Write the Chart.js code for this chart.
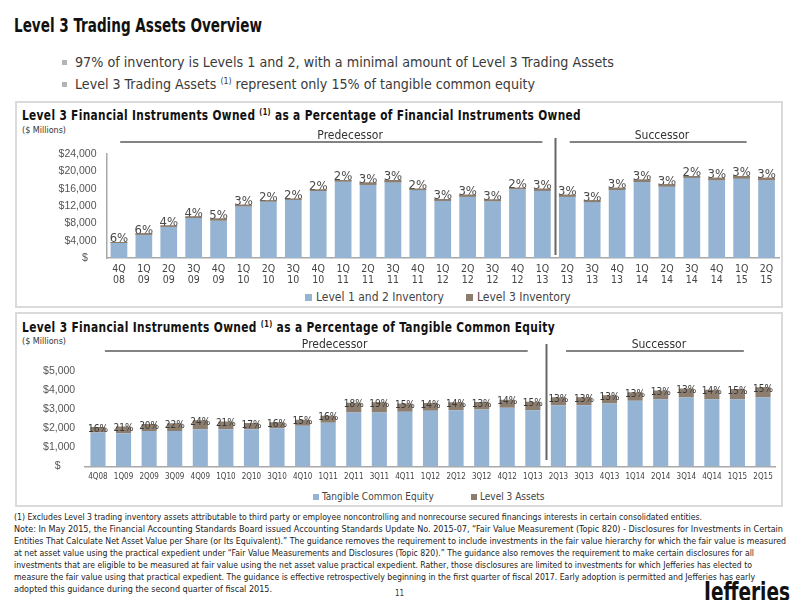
<!DOCTYPE html>
<html>
<head>
<meta charset="utf-8">
<script src="https://cdn.jsdelivr.net/npm/chart.js@4.4.1/dist/chart.umd.min.js"></script>
<style>
    body { margin: 0; background: #fff; }
    #page { position: relative; width: 800px; height: 600px; overflow: hidden; color: #222;
            font-family: 'Liberation Sans Narrow', 'DejaVu Sans Condensed', 'Liberation Sans', sans-serif; }
    .t { position: absolute; white-space: nowrap; transform-origin: left top; }
    .panel { position: absolute; border: 2px solid #dadada; box-sizing: border-box; }
    .chartbox { position: absolute; }
    .sq { display: inline-block; width: 7px; height: 7px; margin-right: 4px; vertical-align: 0px; }
    sup { font-size: 0.62em; line-height: 0; vertical-align: 0.55em; }
    .bul { position: absolute; width: 5px; height: 5px; background: #b4b4b4; }
</style>
</head>
<body>
<div id="page">
    <div class="t" data-w="248" style="left:14px;top:15px;font-size:19px;font-weight:bold;line-height:20px;color:#111;">Level 3 Trading Assets Overview</div>

    <div class="bul" style="left:62px;top:60px;"></div>
    <div class="t" data-w="539" style="left:75px;top:54px;font-size:14.5px;line-height:16px;color:#3a3a3a;">97% of inventory is Levels 1 and 2, with a minimal amount of Level 3 Trading Assets</div>
    <div class="bul" style="left:62px;top:82px;"></div>
    <div class="t" data-w="460" style="left:75px;top:76px;font-size:14.5px;line-height:16px;color:#3a3a3a;">Level 3 Trading Assets <sup>(1)</sup> represent only 15% of tangible common equity</div>

    <!-- panel 1 -->
    <div class="panel" style="left:15px;top:101px;width:768px;height:207px;"></div>
    <div class="t" data-w="559" style="left:22px;top:108px;font-size:13.5px;font-weight:bold;line-height:14px;color:#111;letter-spacing:0.4px;">Level 3 Financial Instruments Owned <sup>(1)</sup> as a Percentage of Financial Instruments Owned</div>
    <div class="t" data-w="44" style="left:22px;top:125px;font-size:9px;line-height:10px;color:#333;">($ Millions)</div>
    <div class="chartbox" style="left:15px;top:125px;"><canvas id="inventoryChart" width="768" height="165"></canvas></div>
    <div class="t" style="left:305px;top:291px;font-size:12px;line-height:12px;color:#444;"><span class="sq" style="background:#95B3D3"></span>Level 1 and 2 Inventory</div>
    <div class="t" style="left:466px;top:291px;font-size:12px;line-height:12px;color:#444;"><span class="sq" style="background:#8C7D6E"></span>Level 3 Inventory</div>

    <!-- panel 2 -->
    <div class="panel" style="left:15px;top:312px;width:768px;height:195px;"></div>
    <div class="t" data-w="533" style="left:22px;top:320px;font-size:13.5px;font-weight:bold;line-height:14px;color:#111;letter-spacing:0.4px;">Level 3 Financial Instruments Owned <sup>(1)</sup> as a Percentage of Tangible Common Equity</div>
    <div class="t" data-w="44" style="left:22px;top:336px;font-size:9px;line-height:10px;color:#333;">($ Millions)</div>
    <div class="chartbox" style="left:15px;top:336px;"><canvas id="equityChart" width="768" height="149"></canvas></div>
    <div class="t" style="left:313px;top:492px;font-size:10px;line-height:10px;color:#444;"><span class="sq" style="background:#95B3D3;width:6px;height:6px;margin-right:3px"></span>Tangible Common Equity</div>
    <div class="t" style="left:471px;top:492px;font-size:10px;line-height:10px;color:#444;"><span class="sq" style="background:#8C7D6E;width:6px;height:6px;margin-right:3px"></span>Level 3 Assets</div>

    <!-- notas -->
    <div class="t" data-w="688" style="left:14px;top:512px;font-size:9px;line-height:10px;">(1) Excludes Level 3 trading inventory assets attributable to third party or employee noncontrolling and nonrecourse secured financings interests in certain consolidated entities.</div>
    <div class="t" data-w="769" style="left:14px;top:524px;font-size:9px;line-height:10px;">Note: In May 2015, the Financial Accounting Standards Board issued Accounting Standards Update No. 2015-07, “Fair Value Measurement (Topic 820) - Disclosures for Investments in Certain</div>
    <div class="t" data-w="772" style="left:14px;top:536px;font-size:9px;line-height:10px;">Entities That Calculate Net Asset Value per Share (or Its Equivalent).” The guidance removes the requirement to include investments in the fair value hierarchy for which the fair value is measured</div>
    <div class="t" data-w="740" style="left:14px;top:548px;font-size:9px;line-height:10px;">at net asset value using the practical expedient under “Fair Value Measurements and Disclosures (Topic 820).” The guidance also removes the requirement to make certain disclosures for all</div>
    <div class="t" data-w="738" style="left:14px;top:560px;font-size:9px;line-height:10px;">investments that are eligible to be measured at fair value using the net asset value practical expedient. Rather, those disclosures are limited to investments for which Jefferies has elected to</div>
    <div class="t" data-w="741" style="left:14px;top:572px;font-size:9px;line-height:10px;">measure the fair value using that practical expedient. The guidance is effective retrospectively beginning in the first quarter of fiscal 2017. Early adoption is permitted and Jefferies has early</div>
    <div class="t" data-w="258" style="left:14px;top:584px;font-size:9px;line-height:10px;">adopted this guidance during the second quarter of fiscal 2015.</div>
    <div class="t" style="left:395px;top:589px;font-size:8px;line-height:9px;color:#333;">11</div>
    <div class="t" data-w="86" style="left:704px;top:580px;font-size:26px;font-weight:bold;line-height:24px;color:#111;">Jefferies</div>
</div>

<script>
// datos ($ millones)
const quarters = ['4Q08','1Q09','2Q09','3Q09','4Q09','1Q10','2Q10','3Q10','4Q10','1Q11','2Q11','3Q11','4Q11',
                  '1Q12','2Q12','3Q12','4Q12','1Q13','2Q13','3Q13','4Q13','1Q14','2Q14','3Q14','4Q14','1Q15','2Q15'];

const inventoryLevel12 = [3480, 5360, 7200, 9220, 8650, 11930, 13030, 13430, 15480, 17640, 16880, 17460, 15680,
                          13190, 14160, 13100, 15880, 15520, 14160, 12900, 15710, 17560, 16490, 18520, 17950, 18330, 17950];
const inventoryLevel3 = [220, 340, 300, 380, 460, 370, 270, 270, 320, 360, 520, 540, 320,
                         410, 440, 410, 320, 480, 440, 400, 490, 540, 510, 380, 560, 570, 560];
const inventoryPct = [6, 6, 4, 4, 5, 3, 2, 2, 2, 2, 3, 3, 2, 3, 3, 3, 2, 3, 3, 3, 3, 3, 3, 2, 3, 3, 3];

const tangibleEquity = [1780, 1730, 1850, 1850, 1950, 1940, 1940, 1990, 2125, 2280, 2820, 2820, 2860,
                        2910, 2940, 2980, 3060, 2940, 3200, 3200, 3290, 3430, 3515, 3600, 3515, 3515, 3600];
const level3Assets = [285, 363, 370, 407, 468, 407, 330, 318, 319, 365, 508, 536, 429,
                      407, 412, 387, 428, 441, 416, 416, 428, 446, 457, 468, 492, 527, 540];
const equityPct = [16, 21, 20, 22, 24, 21, 17, 16, 15, 16, 18, 19, 15, 14, 14, 13, 14, 15, 13, 13, 13, 13, 13, 13, 14, 15, 15];

const blue = '#95B3D3';
const brown = '#8C7D6E';
const textFont = "'Liberation Sans Narrow', 'DejaVu Sans Condensed', 'Liberation Sans', sans-serif";

// ajustar ancho de textos al de la diapositiva
document.querySelectorAll('[data-w]').forEach(el => {
    const w = el.getBoundingClientRect().width;
    el.style.transform = `scaleX(${(+el.dataset.w) / w})`;
});

//etiquetas de porcentaje encima de cada barra
const pctLabels = {
    id: 'pctLabels',
    afterDatasetsDraw(chart, args, opts) {
        const ctx = chart.ctx;
        const topMeta = chart.getDatasetMeta(1);
        ctx.save();
        ctx.font = opts.font;
        ctx.fillStyle = opts.color;
        ctx.textAlign = 'center';
        ctx.textBaseline = 'middle';
        topMeta.data.forEach((bar, i) => {
            ctx.fillText(opts.values[i] + '%', bar.x, bar.y + opts.dy);
        });
        ctx.restore();
        if (opts.redrawTop) {
            topMeta.data.forEach(bar => bar.draw(ctx));
        }
    }
};

// Predecessor / Successor y linea divisoria
const periodMarks = {
    id: 'periodMarks',
    afterDraw(chart, args, opts) {
        const ctx = chart.ctx;
        const xs = chart.scales.x;
        ctx.save();
        ctx.strokeStyle = '#5a5a5a';
        ctx.lineWidth = 1.5;
        ctx.fillStyle = '#333';
        ctx.font = `12px ${textFont}`;
        ctx.textAlign = 'center';
        ctx.textBaseline = 'middle';
        opts.spans.forEach(s => {
            ctx.beginPath();
            ctx.moveTo(xs.getPixelForValue(s.from), opts.lineY);
            ctx.lineTo(xs.getPixelForValue(s.to), opts.lineY);
            ctx.stroke();
            ctx.fillText(s.text, xs.getPixelForValue(s.textAt), opts.textY);
        });
        const xd = Math.round(xs.getPixelForValue(opts.divider)) + 0.5;
        ctx.strokeStyle = '#666';
        ctx.lineWidth = 2;
        ctx.beginPath();
        ctx.moveTo(xd, opts.divTop);
        ctx.lineTo(xd, opts.divBottom);
        ctx.stroke();
        ctx.restore();
    }
};

function moneyTick(zeroLabel) {
    return function(value) {
        if (value === 0) return zeroLabel;
        return '$' + value.toLocaleString('en-US');
    };
}

function buildChart(canvasId, cfg) {
    return new Chart(document.getElementById(canvasId), {
        type: 'bar',
        data: {
            labels: cfg.labels,
            datasets: [
                { label: cfg.names[0], data: cfg.base, backgroundColor: blue, borderWidth: 0,
                  barPercentage: cfg.barPct, categoryPercentage: 1 },
                { label: cfg.names[1], data: cfg.top, backgroundColor: brown, borderWidth: 0,
                  barPercentage: cfg.barPct, categoryPercentage: 1 }
            ]
        },
        options: {
            responsive: false,
            animation: false,
            devicePixelRatio: 1,
            layout: { padding: cfg.padding },
            plugins: {
                legend: { display: false },
                tooltip: { enabled: false },
                pctLabels: cfg.pct,
                periodMarks: cfg.periods
            },
            scales: {
                x: {
                    stacked: true,
                    grid: { display: false, drawTicks: false },
                    border: { display: true, color: '#a8a8a8', width: 1.5 },
                    ticks: { font: { family: textFont, size: cfg.xFont, lineHeight: 1.05 }, color: '#444',
                             padding: cfg.xPad, maxRotation: 0, autoSkip: false },
                    afterFit: s => { s.height = cfg.xHeight; }
                },
                y: {
                    stacked: true,
                    min: 0,
                    max: cfg.yMax,
                    grid: { display: false, drawTicks: false },
                    border: { display: cfg.yBorder, color: '#a8a8a8', width: 1.5 },
                    ticks: { stepSize: cfg.yStep, font: { family: 'Liberation Sans', size: 10.5 }, color: '#555',
                             padding: 10, callback: moneyTick(cfg.zeroLabel) },
                    afterFit: s => { s.width = cfg.yWidth; }
                }
            }
        },
        plugins: [pctLabels, periodMarks]
    });
}

buildChart('inventoryChart', {
    labels: quarters.map(q => [q.slice(0, 2), q.slice(2)]),
    names: ['Level 1 and 2 Inventory', 'Level 3 Inventory'],
    base: inventoryLevel12,
    top: inventoryLevel3,
    barPct: 0.67,
    padding: { left: 0, right: 4, top: 29, bottom: 0 },
    yWidth: 91.5, xHeight: 32, xFont: 10.5, xPad: 6,
    yMax: 24000, yStep: 4000, yBorder: true, zeroLabel: '$   ',
    pct: { values: inventoryPct, font: `13px ${textFont}`, color: '#4a4a4a', dy: -3, redrawTop: true },
    periods: {
        lineY: 17, textY: 11, divider: 17.5, divTop: 13, divBottom: 130,
        spans: [
            { text: 'Predecessor', from: 0.05, to: 17.0, textAt: 9.28 },
            { text: 'Successor', from: 18.1, to: 25.2, textAt: 21.8 }
        ]
    }
});

buildChart('equityChart', {
    labels: quarters,
    names: ['Tangible Common Equity', 'Level 3 Assets'],
    base: tangibleEquity,
    top: level3Assets,
    barPct: 0.59,
    padding: { left: 0, right: 7.2, top: 34.7, bottom: 0 },
    yWidth: 70.2, xHeight: 18.5, xFont: 8, xPad: 6,
    yMax: 5000, yStep: 1000, yBorder: false, zeroLabel: '$     ',
    pct: { values: equityPct, font: `10px ${textFont}`, color: '#3a3a3a', dy: 2, redrawTop: false },
    periods: {
        lineY: 15, textY: 9, divider: 17.5, divTop: 8, divBottom: 124,
        spans: [
            { text: 'Predecessor', from: 0.27, to: 16.8, textAt: 9.25 },
            { text: 'Successor', from: 18.3, to: 25.25, textAt: 21.93 }
        ]
    }
});
</script>
</body>
</html>
